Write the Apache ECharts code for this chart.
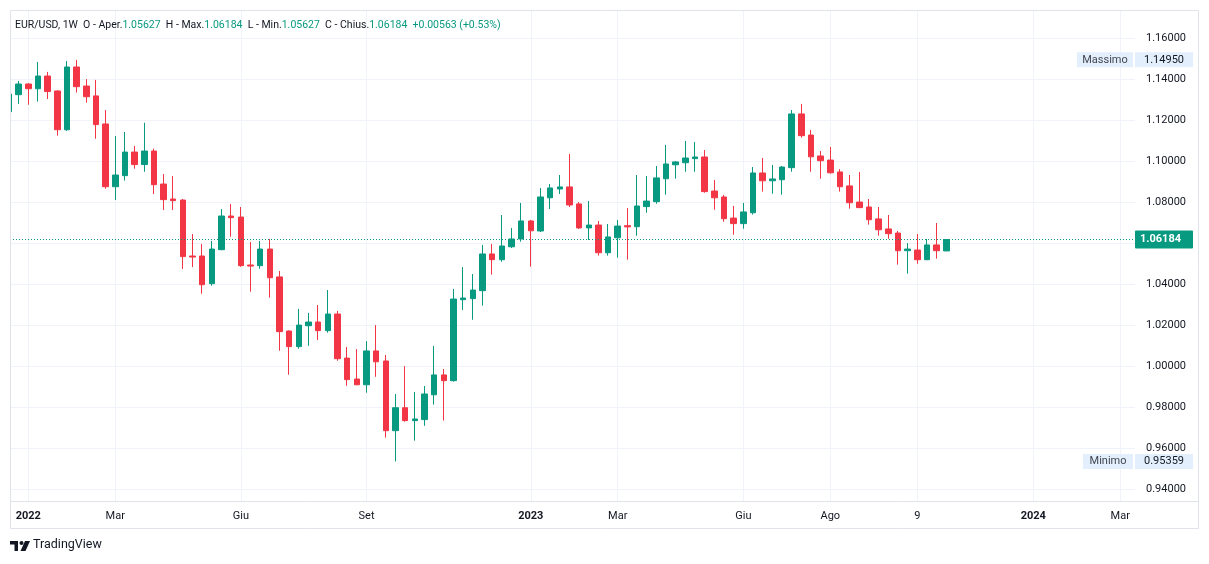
<!DOCTYPE html>
<html><head><meta charset="utf-8">
<script src="https://cdn.jsdelivr.net/npm/echarts@6/dist/echarts.min.js"></script>
<style>html,body{margin:0;padding:0;background:#fff}#c{width:1209px;height:564px}</style>
</head><body><div id="c"></div>
<script>
// ---- data (weekly EUR/USD, first bar = week of 2021-12-20) ----
const firstWeek = '2021-12-20';
const opens = [1.1242,1.1325,1.1377,1.1354,1.1416,1.1343,1.1154,1.1460,1.1367,1.1319,
1.1182,1.0876,1.0930,1.1045,1.0984,1.1050,1.0889,1.0816,1.0811,1.0538,
1.0538,1.0403,1.0569,1.0733,1.0728,1.0494,1.0491,1.0572,1.0436,1.0172,
1.0096,1.0198,1.0216,1.0174,1.0255,1.0040,0.9938,0.9910,1.0075,1.0026,
0.9686,0.9798,0.9735,0.9740,0.9861,0.9958,0.9930,1.0325,1.0330,1.0369,
1.0548,1.0520,1.0583,1.0621,1.0709,1.0660,1.0822,1.0865,1.0875,1.0792,
1.0675,1.0689,1.0554,1.0627,1.0686,1.0681,1.0779,1.0803,1.0915,1.0983,
1.0993,1.1013,1.1021,1.0855,1.0826,1.0723,1.0696,1.0749,1.0943,1.0905,
1.0910,1.0969,1.1231,1.1128,1.1026,1.1006,1.0948,1.0880,1.0801,1.0777,
1.0719,1.0670,1.0650,1.0564,1.0567,1.0520,1.0592,1.05627];
const closes = [1.1328,1.1377,1.1354,1.1416,1.1340,1.1154,1.1460,1.1364,1.1315,1.1179,
1.0876,1.0933,1.1045,1.0984,1.1050,1.0886,1.0813,1.0808,1.0535,1.0533,
1.0398,1.0572,1.0733,1.0725,1.0491,1.0489,1.0572,1.0432,1.0169,1.0096,
1.0201,1.0216,1.0174,1.0255,1.0037,0.9935,0.9910,1.0075,1.0022,0.9686,
0.9798,0.9735,0.9743,0.9865,0.9958,0.9930,1.0328,1.0333,1.0372,1.0548,
1.0520,1.0587,1.0621,1.0709,1.0661,1.0826,1.0870,1.0875,1.0787,1.0675,
1.0689,1.0554,1.0631,1.0684,1.0680,1.0782,1.0806,1.0919,1.0987,1.0997,
1.1016,1.1021,1.0852,1.0822,1.0720,1.0696,1.0753,1.0943,1.0905,1.0914,
1.0972,1.1231,1.1125,1.1022,1.1003,1.0944,1.0876,1.0798,1.0774,1.0715,
1.0666,1.0647,1.0564,1.0572,1.0520,1.0592,1.0564,1.06184];
const lows = [1.1235,1.1280,1.1276,1.1291,1.1304,1.1125,1.1148,1.1335,1.1286,1.1110,
1.0866,1.0811,1.0906,1.0964,1.0949,1.0840,1.0762,1.0762,1.0475,1.0484,
1.0354,1.0393,1.0566,1.0632,1.0485,1.0364,1.0476,1.0335,1.0076,0.9959,
1.0086,1.0100,1.0128,1.0164,1.0027,0.9905,0.9908,0.9871,0.9949,0.9652,
0.95359,0.9730,0.9637,0.9710,0.9813,0.9735,0.9925,1.0275,1.0227,1.0296,
1.0447,1.0510,1.0577,1.0608,1.0486,1.0655,1.0767,1.0840,1.0777,1.0670,
1.0616,1.0540,1.0540,1.0530,1.0520,1.0637,1.0749,1.0793,1.0837,1.0915,
1.0949,1.0949,1.0847,1.0764,1.0705,1.0642,1.0671,1.0740,1.0852,1.0842,
1.0837,1.0949,1.1115,1.0949,1.0915,1.0940,1.0852,1.0769,1.0772,1.0691,
1.0637,1.0622,1.0496,1.0452,1.0500,1.0518,1.0525,1.05627];
const highs = [1.1335,1.1392,1.1380,1.1484,1.1436,1.1346,1.1489,1.14950,1.1401,1.1397,
1.1250,1.1123,1.1143,1.1075,1.1188,1.1062,1.0938,1.0928,1.0816,1.0645,
1.0597,1.0611,1.0767,1.0792,1.0777,1.0606,1.0611,1.0621,1.0465,1.0175,
1.0280,1.0260,1.0299,1.0372,1.0270,1.0094,1.0084,1.0123,1.0201,1.0055,
0.9865,1.0001,0.9875,0.9904,1.0099,0.9987,1.0377,1.0484,1.0450,1.0592,
1.0597,1.0738,1.0675,1.0797,1.0714,1.0870,1.0889,1.0933,1.1036,1.0801,
1.0806,1.0709,1.0694,1.0714,1.0772,1.0933,1.0928,1.0977,1.1080,1.1001,
1.1099,1.1094,1.1055,1.0909,1.0836,1.0782,1.0797,1.0972,1.1016,1.0982,
1.0977,1.1250,1.1280,1.1153,1.1050,1.1070,1.0962,1.0933,1.0948,1.0816,
1.0777,1.0738,1.0660,1.0601,1.0645,1.0621,1.0699,1.06184];
const tickDates = ['2022-01-03','2022-03-07','2022-06-06','2022-09-05','2023-01-02','2023-03-06','2023-06-05','2023-08-07','2023-10-09','2024-01-01','2024-03-04'];
const tickLabels = ['2022','Mar','Giu','Set','2023','Mar','Giu','Ago','9','2024','Mar'];
const yearLabels = ['2022','2023','2024'];
const priceGrid = [0.94,0.96,0.98,1.00,1.02,1.04,1.06,1.08,1.10,1.12,1.14,1.16];
const priceLabels = [0.94,0.96,0.98,1.00,1.02,1.04,1.08,1.10,1.12,1.14,1.16];
const lastPrice = 1.06184, maxPrice = 1.14950, minPrice = 0.95359;
const symbolText = 'EUR/USD, 1W';
const ohlcText = { O: 1.05627, H: 1.06184, L: 1.05627, C: 1.06184 };
const changeText = '+0.00563 (+0.53%)';

// ---- build ----
const DAY = 86400000;
const refMs = Date.parse('2022-01-03');
const weekOf = d => (Date.parse(d) - refMs) / (7 * DAY);
const w0 = weekOf(firstWeek);
const candles = opens.map((o, i) => [w0 + i, o, closes[i], lows[i], highs[i]]);
const tickWeeks = tickDates.map(weekOf);

const UP = '#089981', DOWN = '#F23645', TXT = '#131722', GRID = '#f0f3fa', BORDER = '#e0e3eb';
const FONT = 'Roboto, "Noto Sans", sans-serif';

const chart = echarts.init(document.getElementById('c'), null, { renderer: 'canvas' });

const header = '{d|' + symbolText + '  O - Aper.}{g|' + ohlcText.O.toFixed(5) + '}{d|  H - Max.}{g|' + ohlcText.H.toFixed(5) +
  '}{d|  L - Min.}{g|' + ohlcText.L.toFixed(5) + '}{d|  C - Chius.}{g|' + ohlcText.C.toFixed(5) + '}{g|  ' + changeText + '}';

chart.setOption({
  animation: false,
  backgroundColor: '#ffffff',
  textStyle: { fontFamily: FONT },
  title: {
    left: 15, top: 18, padding: 0,
    text: header,
    textStyle: {
      fontWeight: 'normal', fontSize: 10.5,
      rich: {
        d: { color: TXT, fontSize: 10.5, fontWeight: 'normal', fontFamily: FONT, lineHeight: 14 },
        g: { color: UP, fontSize: 10.5, fontWeight: 'normal', fontFamily: FONT, lineHeight: 14 }
      }
    }
  },
  grid: { left: 10, right: 74, top: 10, bottom: 62.5, containLabel: false },
  xAxis: {
    type: 'value', min: -1.894, max: 114.53,
    axisLine: { show: false },
    axisTick: { show: false, customValues: tickWeeks },
    splitLine: { show: true, lineStyle: { color: GRID, width: 1 } },
    axisLabel: {
      customValues: tickWeeks, margin: 9, color: TXT, fontSize: 11, fontFamily: FONT,
      formatter: v => {
        let idx = tickWeeks.findIndex(t => Math.abs(t - v) < 0.01);
        if (idx < 0) return '';
        const s = tickLabels[idx];
        return yearLabels.includes(s) ? '{b|' + s + '}' : s;
      },
      rich: { b: { fontWeight: 'bold', color: TXT, fontSize: 11, fontFamily: FONT } }
    }
  },
  yAxis: {
    type: 'value', position: 'right', min: 0.93405, max: 1.1738, scale: true,
    axisLine: { show: false },
    axisTick: { show: false, customValues: priceGrid },
    splitLine: { show: true, lineStyle: { color: GRID, width: 1 } },
    axisLabel: {
      customValues: priceLabels, margin: 11, color: TXT, fontSize: 11, fontFamily: FONT,
      formatter: v => v.toFixed(5)
    }
  },
  series: [{
    type: 'candlestick',
    data: candles,
    barWidth: 6,
    clip: true,
    itemStyle: { color: UP, color0: DOWN, borderColor: UP, borderColor0: DOWN, borderWidth: 1 },
    markLine: {
      silent: true, animation: false, precision: 5,
      symbol: ['none', 'none'],
      data: [
        { yAxis: lastPrice,
          lineStyle: { color: UP, type: [1, 2], width: 1 },
          label: { show: true, position: 'end', distance: 0, formatter: lastPrice.toFixed(5),
            backgroundColor: UP, color: '#ffffff', fontWeight: 'bold', fontSize: 11, fontFamily: FONT,
            padding: [4, 5, 3, 5], width: 48, align: 'left', borderRadius: 1 } },
        { yAxis: maxPrice,
          lineStyle: { color: 'rgba(0,0,0,0)', width: 0 },
          label: { show: true, position: 'end', distance: 0, offset: [-58, 0],
            formatter: '{n|Massimo}{s|}{v|' + maxPrice.toFixed(5) + '}',
            rich: {
              n: { backgroundColor: '#e3effd', color: '#434651', fontSize: 11, fontFamily: FONT, width: 46, align: 'center', padding: [2, 5, 2, 5], lineHeight: 12 },
              s: { width: 2 },
              v: { backgroundColor: '#e3effd', color: TXT, fontSize: 11, fontFamily: FONT, width: 48, align: 'center', padding: [2, 5, 2, 5], lineHeight: 12 }
            } } },
        { yAxis: minPrice,
          lineStyle: { color: 'rgba(0,0,0,0)', width: 0 },
          label: { show: true, position: 'end', distance: 0, offset: [-52, 0],
            formatter: '{n|Minimo}{s|}{v|' + minPrice.toFixed(5) + '}',
            rich: {
              n: { backgroundColor: '#e3effd', color: '#434651', fontSize: 11, fontFamily: FONT, width: 40, align: 'center', padding: [2, 5, 2, 5], lineHeight: 12 },
              s: { width: 2 },
              v: { backgroundColor: '#e3effd', color: TXT, fontSize: 11, fontFamily: FONT, width: 48, align: 'center', padding: [2, 5, 2, 5], lineHeight: 12 }
            } } }
      ]
    }
  }],
  graphic: [
    { type: 'rect', silent: true, z: 90, shape: { x: 0, y: 11, width: 10, height: 490 }, style: { fill: '#ffffff' } },
    { type: 'rect', silent: true, z: 100, shape: { x: 10.5, y: 10.5, width: 1188, height: 518 }, style: { fill: 'none', stroke: BORDER, lineWidth: 1 } },
    { type: 'line', silent: true, z: 100, shape: { x1: 10, y1: 501.5, x2: 1199, y2: 501.5 }, style: { stroke: BORDER, lineWidth: 1 } },
    { type: 'polygon', silent: true, shape: { points: [[10,541],[18,541],[18,551],[14.5,551],[14.5,544.5],[10,544.5]] }, style: { fill: TXT } },
    { type: 'circle', silent: true, shape: { cx: 21.5, cy: 543, r: 2 }, style: { fill: TXT } },
    { type: 'polygon', silent: true, shape: { points: [[25,541],[30,541],[25.5,551],[20.5,551]] }, style: { fill: TXT } },
    { type: 'text', silent: true, left: 33, top: 538.5, style: { text: 'TradingView', fill: TXT, fontSize: 12.5, fontFamily: FONT } }
  ]
});
</script></body></html>
